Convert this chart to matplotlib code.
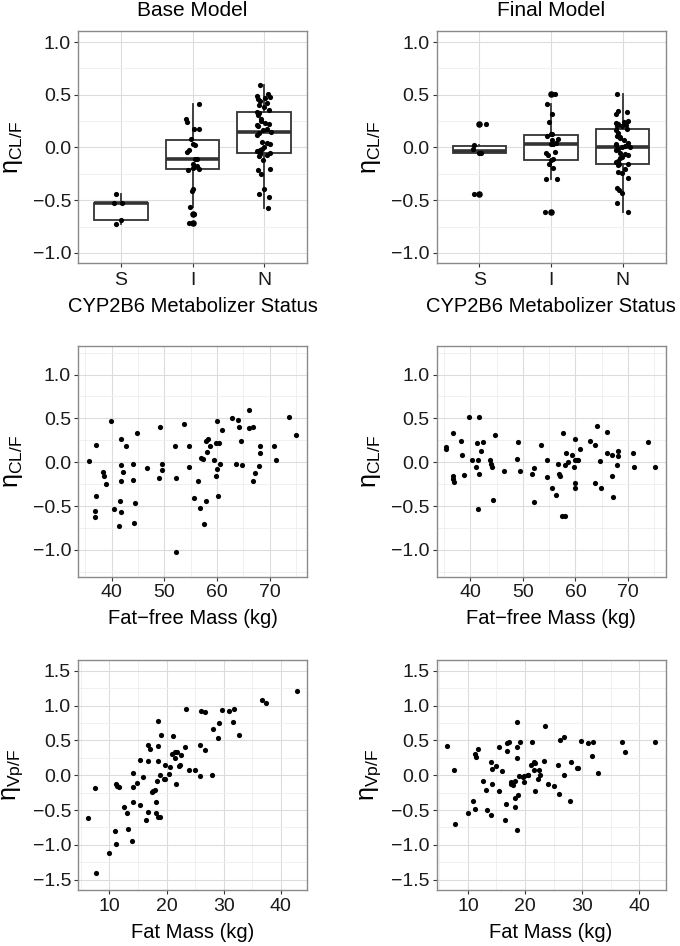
import numpy as np
import matplotlib
matplotlib.use('Agg')
import matplotlib.pyplot as plt
from matplotlib.ticker import MultipleLocator, AutoMinorLocator, FuncFormatter

plt.rcParams['font.family'] = ['Liberation Sans', 'DejaVu Sans']
plt.rcParams['mathtext.fontset'] = 'custom'
plt.rcParams['mathtext.rm'] = 'Liberation Sans'
plt.rcParams['mathtext.it'] = 'Liberation Sans:italic'
plt.rcParams['mathtext.bf'] = 'Liberation Sans:bold'

# ---- CYP2B6 metabolizer status (S / I / N) vs eta CL/F ----
status_labels = ['S', 'I', 'N']
cyp_s_base = [-0.73, -0.69, -0.525, -0.525, -0.44]
cyp_i_base = [0.41, 0.27, 0.24, 0.18, 0.18, 0.08, 0.03, 0.02, -0.02, -0.04, -0.11,
              -0.11, -0.16, -0.18, -0.19, -0.20, -0.21, -0.39, -0.41, -0.56, -0.63, -0.72]
cyp_n_base = [-0.57, -0.47, -0.44, -0.39, -0.25, -0.21, -0.20, -0.12, -0.08, -0.07, -0.06,
              -0.05, -0.04, -0.03, -0.02, -0.01, 0.00, 0.03, 0.04, 0.05, 0.12, 0.14, 0.15,
              0.17, 0.18, 0.20, 0.21, 0.22, 0.23, 0.25, 0.27, 0.31, 0.33, 0.34,
              0.36, 0.38, 0.40, 0.42, 0.44, 0.46, 0.47, 0.48, 0.49, 0.51, 0.59]

cyp_s_final = [-0.445, -0.055, -0.05, -0.013, 0.028, 0.22]
cyp_i_final = [-0.61, -0.30, -0.30, -0.19, -0.16, -0.12, -0.11, -0.07, -0.05, -0.04, 0.03,
               0.035, 0.04, 0.07, 0.08, 0.11, 0.125, 0.13, 0.24, 0.32, 0.41, 0.51]
cyp_n_final = [-0.61, -0.53, -0.43, -0.40, -0.38, -0.29, -0.24, -0.23, -0.20, -0.17, -0.16,
               -0.155, -0.14, -0.13, -0.10, -0.09, -0.07, -0.06, -0.05, -0.02, -0.01, 0.00,
               0.003, 0.01, 0.02, 0.03, 0.04, 0.07, 0.09, 0.10, 0.11, 0.14, 0.17, 0.18,
               0.20, 0.20, 0.21, 0.22, 0.23, 0.24, 0.25, 0.32, 0.34, 0.35, 0.51]

# ---- Fat-free mass vs eta CL/F ----
ffm_base = [35.6, 37.0, 37.1, 36.8, 36.8, 38.4, 38.5, 39.0, 39.9, 40.4,
            41.8, 42.7, 41.7, 42.2, 41.8, 41.5, 41.7, 41.3, 44.9, 44.0,
            44.0, 44.4, 44.3, 46.7, 49.1, 49.6, 49.5, 49.0, 52.0, 53.7,
            54.6, 54.6, 52.2, 52.2, 55.7, 56.4, 56.8, 57.0, 57.3, 57.6,
            57.9, 58.3, 58.1, 58.6, 58.0, 59.5, 59.8, 60.3, 60.0, 60.0,
            59.8, 60.1, 60.5, 60.9, 62.8, 63.9, 64.2, 63.7, 64.6, 64.8,
            66.1, 66.0, 66.9, 67.2, 66.9, 68.1, 68.1, 67.9, 70.9, 71.3,
            73.7, 75.1]
eta_cl_ffm_base = [0.01, 0.20, -0.39, -0.56, -0.62, -0.11, -0.16, -0.25, 0.47, -0.53,
                   0.27, 0.19, -0.03, -0.11, -0.21, -0.44, -0.57, -0.73, 0.33, -0.02,
                   -0.20, -0.47, -0.69, -0.07, 0.40, -0.02, -0.09, -0.18, 0.18, 0.44,
                   0.18, -0.05, -0.18, -1.02, -0.41, -0.22, -0.52, 0.05, 0.04, -0.71,
                   0.24, 0.26, 0.12, 0.19, -0.44, 0.03, 0.22, 0.22, 0.47, -0.08,
                   -0.16, -0.39, -0.02, 0.37, 0.50, 0.48, 0.40, -0.02, 0.24, -0.03,
                   0.59, 0.39, 0.40, -0.12, -0.21, 0.18, 0.11, -0.04, 0.18, 0.02,
                   0.52, 0.31]

ffm_final = [35.4, 35.4, 36.8, 36.7, 36.8, 36.9, 38.2, 38.4, 38.9, 39.8,
             40.3, 41.3, 41.6, 42.5, 42.0, 41.5, 41.1, 41.7, 41.5, 44.8,
             43.8, 43.9, 44.2, 44.3, 46.5, 49.0, 48.8, 49.4, 51.8, 52.1,
             52.1, 53.5, 54.5, 54.5, 55.6, 56.3, 56.7, 56.8, 57.1, 57.7,
             57.5, 58.0, 58.2, 58.5, 58.1, 59.4, 59.9, 59.9, 59.8, 59.9,
             60.0, 60.2, 60.4, 60.8, 62.7, 63.8, 64.1, 63.7, 64.6, 64.8,
             66.0, 66.0, 66.9, 66.9, 67.2, 68.0, 68.0, 67.8, 70.9, 71.2,
             73.7, 75.1]
eta_cl_ffm_final = [0.17, 0.15, 0.33, -0.16, -0.19, -0.23, 0.24, 0.08, -0.15, 0.51,
                    0.03, 0.22, 0.52, 0.23, 0.13, 0.02, -0.05, -0.13, -0.53, 0.31,
                    0.03, -0.02, -0.05, -0.43, -0.10, 0.23, 0.04, -0.10, -0.13, -0.07,
                    -0.45, 0.20, 0.03, -0.17, -0.29, -0.38, -0.02, -0.13, -0.16, 0.33,
                    -0.61, -0.61, 0.11, 0.00, -0.03, 0.08, 0.26, 0.02, -0.05, -0.24,
                    -0.29, 0.02, 0.03, 0.15, 0.24, 0.20, 0.41, -0.24, 0.01, -0.29,
                    0.35, 0.10, 0.08, -0.16, -0.40, 0.13, 0.07, -0.03, 0.11, -0.05,
                    0.23, -0.06]

# ---- Fat mass vs eta Vp/F ----
fm_base = [6.2, 7.5, 7.7, 10.0, 10.9, 11.1, 11.1, 11.4, 11.7, 12.6,
           13.0, 13.3, 13.9, 14.1, 14.1, 14.2, 14.9, 15.3, 15.4, 15.9,
           16.4, 16.7, 16.7, 17.1, 16.7, 17.5, 17.7, 17.9, 18.1, 18.1,
           18.5, 18.8, 18.5, 18.5, 18.5, 18.8, 18.3, 19.1, 19.8, 19.6,
           19.8, 20.5, 20.6, 20.9, 21.2, 21.5, 21.5, 21.8, 21.6, 22.2,
           22.3, 22.5, 23.2, 23.4, 24.0, 25.0, 25.9, 25.9, 26.1, 26.8,
           26.8, 27.9, 28.1, 29.1, 29.2, 29.8, 31.0, 31.9, 31.6, 32.7,
           36.8, 37.5, 42.8]
eta_vp_fm_base = [-0.62, -0.19, -1.40, -1.12, -0.80, -0.98, -0.13, -0.15, -0.17, -0.45,
                  -0.54, -0.77, -0.95, 0.03, -0.17, -0.38, -0.11, -0.43, 0.22, -0.03,
                  -0.64, -0.53, 0.43, 0.38, 0.20, -0.24, -0.23, -0.21, -0.38, -0.54,
                  -0.60, -0.60, 0.78, 0.42, 0.20, 0.01, -0.09, 0.57, 0.14, -0.06,
                  -0.05, 0.02, 0.12, 0.31, 0.56, 0.25, 0.33, 0.34, -0.12, 0.13,
                  0.14, 0.29, 0.41, 0.95, 0.08, 0.08, 0.44, -0.01, 0.92, 0.91,
                  0.36, 0.01, 0.66, 0.54, 0.75, 0.94, 0.92, 0.95, 0.76, 0.57,
                  1.08, 1.04, 1.21]

fm_final = [6.3, 7.6, 7.8, 10.0, 10.9, 11.2, 11.2, 11.5, 11.7, 12.7,
            13.1, 13.4, 14.0, 14.1, 14.3, 14.3, 15.0, 15.4, 15.5, 16.0,
            16.5, 16.7, 16.8, 17.2, 16.8, 17.5, 17.6, 17.9, 18.3, 18.2,
            18.2, 18.6, 18.6, 18.6, 18.6, 18.8, 18.9, 19.2, 19.6, 19.9,
            19.9, 20.5, 20.6, 21.0, 21.3, 21.5, 21.8, 21.5, 21.8, 22.4,
            22.2, 22.6, 23.3, 23.5, 24.0, 25.1, 25.8, 25.9, 26.1, 26.9,
            26.8, 27.9, 28.1, 29.1, 29.3, 29.8, 31.0, 31.9, 31.7, 32.7,
            36.9, 37.5, 42.7]
eta_vp_fm_final = [0.42, 0.07, -0.70, -0.54, -0.37, -0.48, 0.31, 0.26, 0.37, -0.08,
                   -0.21, -0.50, -0.57, 0.19, 0.09, -0.13, 0.13, -0.23, 0.40, 0.06,
                   -0.64, -0.42, 0.46, 0.47, 0.35, -0.10, -0.12, -0.14, -0.08, -0.33,
                   -0.45, 0.76, 0.40, 0.24, -0.78, -0.28, -0.01, 0.48, -0.02, -0.01,
                   -0.10, 0.01, 0.00, 0.14, 0.47, 0.19, 0.17, 0.08, -0.22, 0.07,
                   -0.05, 0.01, 0.20, 0.70, -0.12, -0.15, 0.14, -0.27, 0.51, 0.55,
                   0.00, -0.37, 0.19, 0.11, 0.10, 0.49, 0.46, 0.47, 0.27, 0.03,
                   0.48, 0.33, 0.47]

LINE = '#333333'
BORDER = '#8a8a8a'
LABEL_CL = r'$\mathrm{\eta}_{\mathrm{CL/F}}$'
LABEL_VP = r'$\mathrm{\eta}_{\mathrm{Vp/F}}$'
DOT = 14

# tick labels with a real minus sign, one decimal
one_dec = FuncFormatter(lambda v, pos: ('%.1f' % v).replace('-', '\u2212'))


def style_axes(ax, ylabel, xlabel, xpad=2, lpad=7):
    ax.set_facecolor('white')
    for sp in ax.spines.values():
        sp.set_color(BORDER)
        sp.set_linewidth(1.0)
    ax.set_axisbelow(True)
    ax.grid(which='major', color='#dcdcdc', linewidth=0.8)
    ax.grid(which='minor', color='#eeeeee', linewidth=0.6)
    ax.tick_params(which='major', length=3, width=0.8, color=LINE,
                   labelsize=14, labelcolor='#1a1a1a', pad=2)
    ax.tick_params(axis='x', which='major', pad=xpad)
    ax.tick_params(which='minor', length=0)
    ax.set_xlabel(xlabel, fontsize=14.5, labelpad=lpad)
    ax.set_ylabel(ylabel, fontsize=18, rotation=90)
    ax.yaxis.set_label_coords(-0.232, 0.5)


def box_panel(ax, groups):
    ax.boxplot(groups, positions=[1, 2, 3], widths=0.75, patch_artist=True,
               showcaps=False,
               boxprops=dict(facecolor='white', edgecolor=LINE, linewidth=1.3),
               medianprops=dict(color=LINE, linewidth=2.6),
               whiskerprops=dict(color=LINE, linewidth=1.3),
               flierprops=dict(marker='o', markerfacecolor='black',
                               markeredgecolor='black', markersize=3.7))
    rng = np.random.default_rng(11)
    for k, g in enumerate(groups):
        jit = rng.uniform(-0.1, 0.1, len(g))
        ax.scatter(np.full(len(g), k + 1) + jit, g, s=DOT, color='black',
                   zorder=4, linewidths=0)
    ax.set_xticks([1, 2, 3])
    ax.set_xticklabels(status_labels)
    ax.set_xlim(0.4, 3.6)
    ax.set_ylim(-1.1, 1.1)
    ax.yaxis.set_major_locator(MultipleLocator(0.5))
    ax.yaxis.set_minor_locator(AutoMinorLocator(2))
    ax.yaxis.set_major_formatter(one_dec)
    style_axes(ax, LABEL_CL, 'CYP2B6 Metabolizer Status', xpad=3, lpad=6)


def scatter_panel(ax, x, y, xlim, ylim, ylabel, xlabel, xpad=2, lpad=6):
    ax.scatter(x, y, s=DOT, color='black', linewidths=0, zorder=3)
    ax.set_xlim(*xlim)
    ax.set_ylim(*ylim)
    ax.xaxis.set_major_locator(MultipleLocator(10))
    ax.xaxis.set_minor_locator(AutoMinorLocator(2))
    ax.yaxis.set_major_locator(MultipleLocator(0.5))
    ax.yaxis.set_minor_locator(AutoMinorLocator(2))
    ax.yaxis.set_major_formatter(one_dec)
    style_axes(ax, ylabel, xlabel, xpad=xpad, lpad=lpad)


fig = plt.figure(figsize=(6.8, 9.46), dpi=100)
W, H = 680.0, 946.0
cols = [78.0, 436.5]
rows = [(31.5, 263.5), (346.5, 577.0), (659.5, 889.5)]
pw = 229.0


def make_ax(c, r):
    top, bot = rows[r]
    return fig.add_axes([cols[c] / W, 1 - bot / H, pw / W, (bot - top) / H])


ax = make_ax(0, 0)
box_panel(ax, [cyp_s_base, cyp_i_base, cyp_n_base])
ax = make_ax(1, 0)
box_panel(ax, [cyp_s_final, cyp_i_final, cyp_n_final])

ax = make_ax(0, 1)
scatter_panel(ax, ffm_base, eta_cl_ffm_base, (33.6, 77.1), (-1.31, 1.32),
              LABEL_CL, 'Fat\u2212free Mass (kg)')
ax = make_ax(1, 1)
scatter_panel(ax, ffm_final, eta_cl_ffm_final, (33.6, 77.1), (-1.31, 1.32),
              LABEL_CL, 'Fat\u2212free Mass (kg)')

ax = make_ax(0, 2)
scatter_panel(ax, fm_base, eta_vp_fm_base, (4.5, 44.6), (-1.64, 1.66),
              LABEL_VP, 'Fat Mass (kg)', xpad=3, lpad=6)
ax = make_ax(1, 2)
scatter_panel(ax, fm_final, eta_vp_fm_final, (4.5, 44.6), (-1.64, 1.66),
              LABEL_VP, 'Fat Mass (kg)', xpad=3, lpad=6)

fig.text((cols[0] + pw / 2) / W, 1 - 11 / H, 'Base Model', ha='center', va='center', fontsize=15)
fig.text((cols[1] + pw / 2) / W, 1 - 11 / H, 'Final Model', ha='center', va='center', fontsize=15)

fig.savefig('out.png', dpi=100)
